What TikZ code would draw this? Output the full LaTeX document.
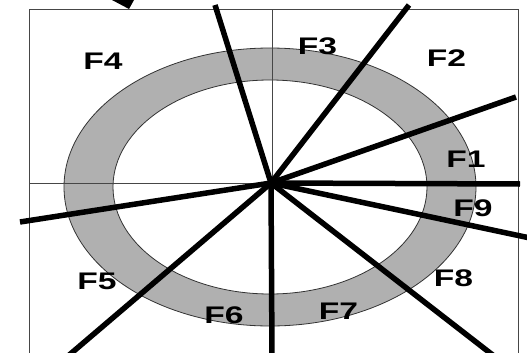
\documentclass[tikz,border=0pt]{standalone}
\usepackage{fontspec}
\setmainfont{Liberation Sans}
\definecolor{ringgray}{RGB}{176,176,176}
\definecolor{framegray}{RGB}{70,70,70}
\tikzset{
  ray/.style={line width=5.5pt, black},
  thinline/.style={line width=1pt, framegray},
  lbl/.style={inner sep=0pt, font=\fontsize{24}{24}\selectfont\bfseries},
}
\newcommand{\wide}[1]{\scalebox{1.4}[1]{#1}}
\begin{document}
\begin{tikzpicture}[x=1pt,y=-1pt]
\useasboundingbox (0,0) rectangle (527,353);
\clip (0,0) rectangle (527,353);
% frame
\draw[thinline] (29,360) -- (29,10) -- (518,10) -- (518,360);
% ring
\fill[ringgray, even odd rule] (270,187) ellipse [x radius=206, y radius=139]
  (270,187) ellipse [x radius=157, y radius=107];
\draw[line width=0.8pt, black!80] (270,187) ellipse [x radius=206, y radius=139];
\draw[line width=0.8pt, black!80] (270,187) ellipse [x radius=157, y radius=107];
% thin cross
\coordinate (C) at (271,183);
\draw[thinline] (29,183) -- (518,183);
\draw[thinline] (272,10) -- (272,353);
% arrow tip at top
\fill[black] (112,0) -- (134,0) -- (129,9) -- cycle;
% rays
\coordinate (e1) at (215,5);
\coordinate (e2) at (409,5);
\coordinate (e3) at (516,97);
\coordinate (e4) at (520,184);
\coordinate (e5) at (530,238);
\coordinate (e6) at (494,356);
\coordinate (e7) at (272,356);
\coordinate (e8) at (68,356);
\coordinate (e9) at (20,222);
\foreach \e in {e1,e2,e3,e4,e5,e6,e7,e8,e9}
  \draw[ray] (C) -- (\e);
% labels
\node[lbl] (F4) at (103,61.5) {\wide{F4}};
\node[lbl] (F3) at (317.5,46) {\wide{F3}};
\node[lbl] (F2) at (446.5,58.5) {\wide{F2}};
\node[lbl] (F1) at (466,159) {\wide{F1}};
\node[lbl] (F9) at (473,208.5) {\wide{F9}};
\node[lbl] (F8) at (453.5,278.5) {\wide{F8}};
\node[lbl] (F7) at (338.5,311.5) {\wide{F7}};
\node[lbl] (F6) at (224,315) {\wide{F6}};
\node[lbl] (F5) at (97,281) {\wide{F5}};
\end{tikzpicture}
\end{document}
